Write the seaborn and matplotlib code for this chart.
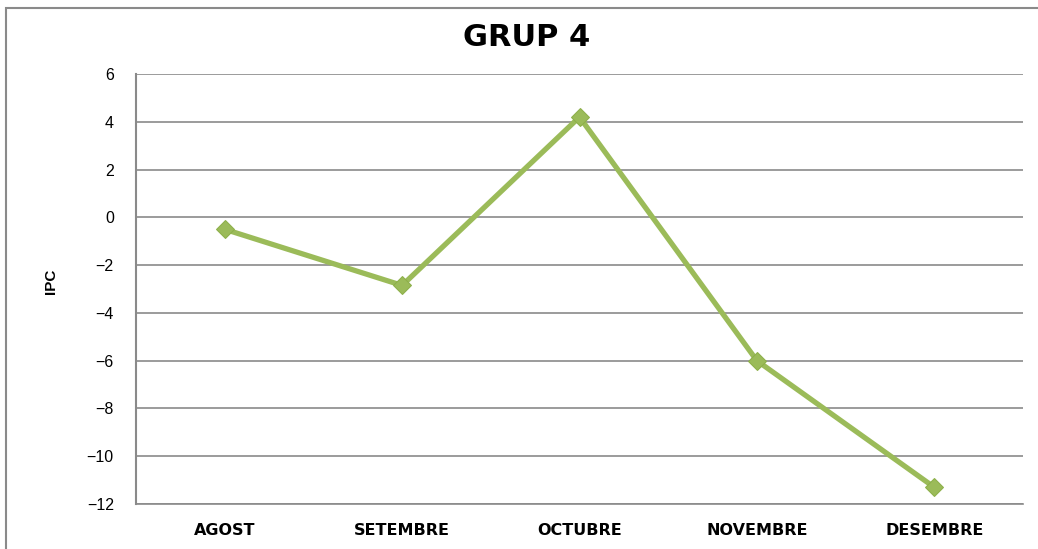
import matplotlib
matplotlib.use("Agg")
import matplotlib.pyplot as plt
import seaborn as sns
import pandas as pd
from matplotlib.patches import Rectangle

months = ["AGOST", "SETEMBRE", "OCTUBRE", "NOVEMBRE", "DESEMBRE"]
ipc = [-0.5, -2.85, 4.2, -6.0, -11.3]
yticks = [6, 4, 2, 0, -2, -4, -6, -8, -10, -12]

sns.set_theme(style="white")
plt.rcParams['font.family'] = ['Liberation Sans', 'DejaVu Sans']
plt.rcParams['text.color'] = 'black'
plt.rcParams['axes.labelcolor'] = 'black'
plt.rcParams['xtick.color'] = 'black'
plt.rcParams['ytick.color'] = 'black'

df = pd.DataFrame({"mes": months, "ipc": ipc})

W, H = 1038, 549
fig = plt.figure(figsize=(W / 100, H / 100), dpi=100)
ax = fig.add_axes([136 / W, 1 - 504 / H, (1023 - 136) / W, (504 - 74) / H])

sns.lineplot(data=df, x="mes", y="ipc", ax=ax, color="#9BBB59", linewidth=3.8,
             marker="D", markersize=9, markeredgecolor="#8DB04A", sort=False)

ax.set_xlim(-0.5, len(months) - 0.5)
ax.set_ylim(-12, 6)
ax.set_yticks(yticks)
ax.set_yticklabels([str(t).replace("-", "\u2212") if t < 0 else str(t) for t in yticks],
                   fontsize=11.5, color="black")
ax.set_xticks(range(len(months)))
ax.set_xticklabels(months, fontsize=11.5, fontweight="bold", color="black",
                   family=["DejaVu Sans"])
ax.tick_params(axis="y", length=0, pad=16)
ax.tick_params(axis="x", length=0, pad=14)

ax.grid(axis="y", color="#8a8a8a", linewidth=1.2)
ax.grid(axis="x", visible=False)
for s in ["top", "right"]:
    ax.spines[s].set_visible(False)
ax.spines["bottom"].set_color("#8a8a8a")
ax.spines["bottom"].set_linewidth(1.2)
ax.spines["left"].set_color("#8a8a8a")
ax.spines["left"].set_linewidth(1.5)

ax.set_xlabel("")
ax.set_ylabel("IPC", fontsize=11, fontweight="bold", color="black")
ax.yaxis.set_label_coords((58 - 136) / 887, (504 - 281) / 430)

fig.text(527 / W, 1 - 37 / H, "GRUP 4", fontsize=22, fontweight="bold",
         ha="center", va="center", color="black", family=["DejaVu Sans"])

fig.patches.append(Rectangle((6 / W, -0.1), 1.2, 1 - 8 / H + 0.1,
                             transform=fig.transFigure, fill=False,
                             edgecolor="#8a8a8a", linewidth=1.5))

fig.savefig("out.png", dpi=100, facecolor="white")
